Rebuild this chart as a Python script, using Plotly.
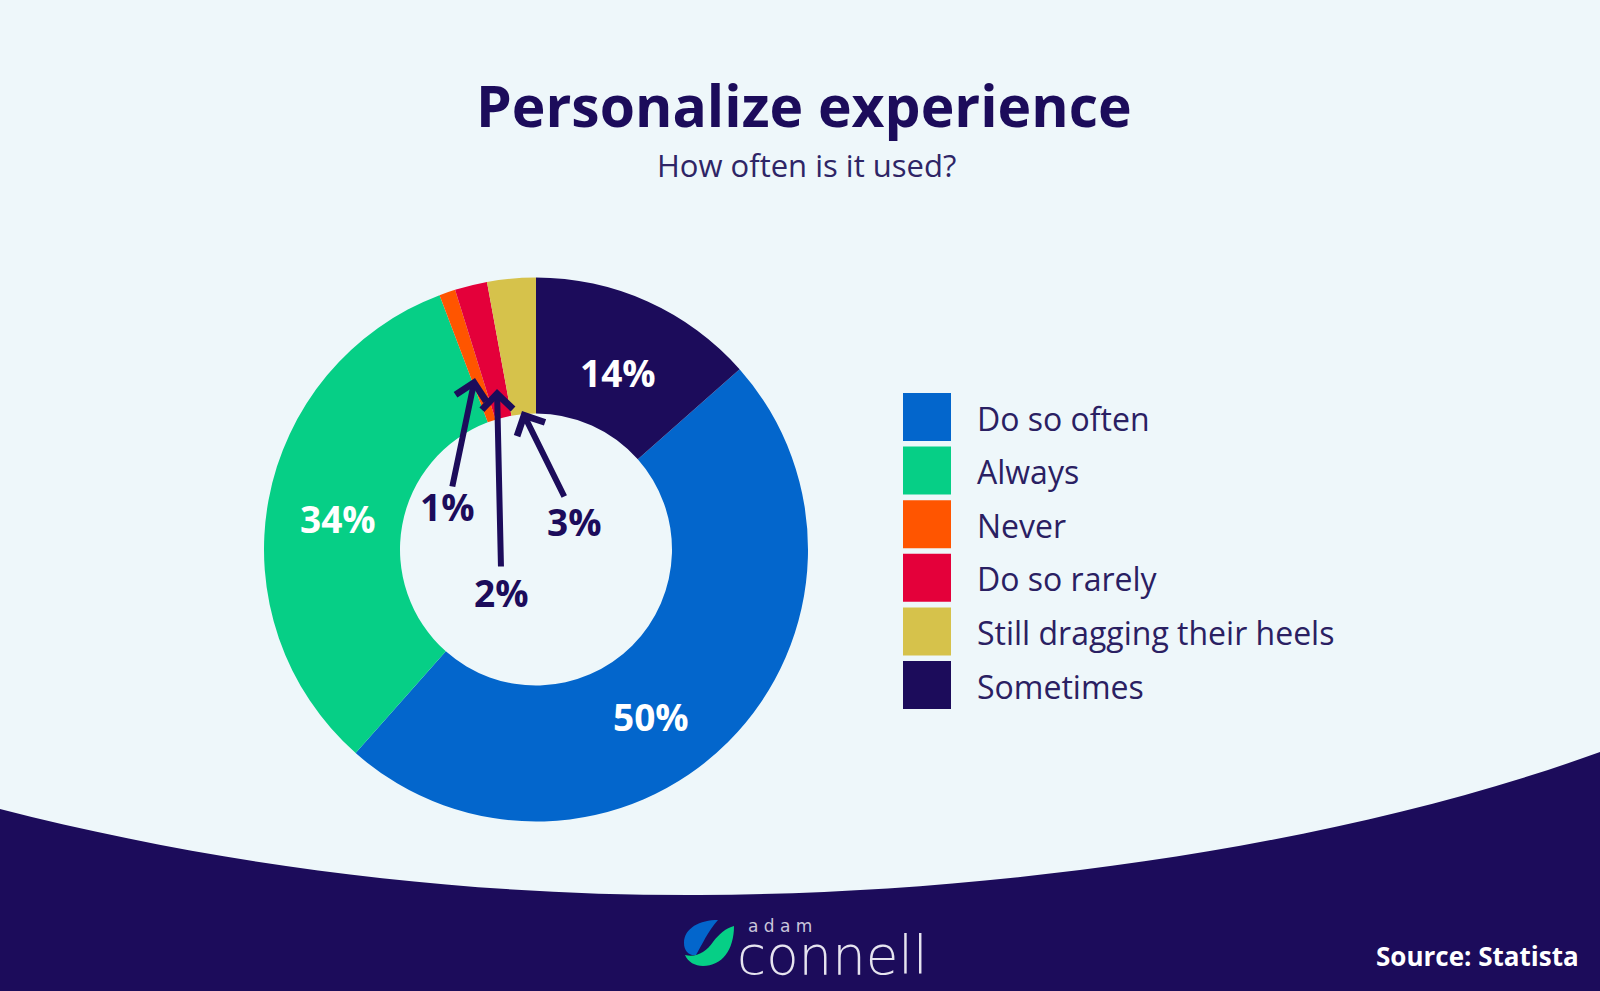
import plotly.graph_objects as go

W, H = 1600, 991

# data
labels = ["Do so often", "Always", "Never", "Do so rarely",
          "Still dragging their heels", "Sometimes"]
values = [50, 34, 1, 2, 3, 14]
colors = ["#0366CC", "#06CF86", "#FF5500", "#E4003A", "#D6C24B", "#1C0C5B"]

NAVY = "#1C0C5B"
BG = "#EEF7FA"
FONT = "Open Sans"


def px(x, y):
    # pixel position -> paper coords
    return x / W, 1 - y / H


def path(points):
    # list of pixel commands -> paper path
    out = []
    for cmd in points:
        if isinstance(cmd, str):
            out.append(cmd)
        else:
            a, b = px(*cmd)
            out.append(f"{a:.5f},{b:.5f}")
    return " ".join(out)


def label(x, y, text, size, color, xanchor="center", family=FONT, **kw):
    xx, yy = px(x, y)
    return dict(x=xx, y=yy, xref="paper", yref="paper", text=text,
                showarrow=False, xanchor=xanchor, yanchor="middle",
                font=dict(family=family, size=size, color=color, **kw))


# pie: center (536, 549.5), outer radius 272
cx, cy, r = 536, 549.5, 272
x0, y0 = px(cx - r, cy + r)
x1, y1 = px(cx + r, cy - r)

fig = go.Figure()
fig.add_trace(go.Pie(
    labels=labels,
    values=values,
    marker=dict(colors=colors, line=dict(width=0)),
    hole=0.5,
    sort=False,
    direction="clockwise",
    rotation=360 * values[-1] / sum(values),
    textinfo="none",
    hoverinfo="label+value",
    showlegend=False,
    domain=dict(x=[x0, x1], y=[y0, y1]),
))

shapes = []
annotations = []

# bottom navy band with curved top
shapes.append(dict(
    type="path", xref="paper", yref="paper", layer="below",
    path=path(["M", (0, 809), "C", (230, 868), (470, 896), (700, 895),
               "C", (980, 894), (1330, 850), (1600, 752),
               "L", (1600, 991), "L", (0, 991), "Z"]),
    fillcolor=NAVY, line=dict(width=0),
))

# logo icon
shapes.append(dict(
    type="path", xref="paper", yref="paper",
    path=path(["M", (718, 920), "C", (700, 920), (684, 928), (684, 943),
               "C", (684, 951), (689, 956), (696, 955),
               "C", (702, 945), (708, 931), (718, 920), "Z"]),
    fillcolor="#0366CC", line=dict(width=0),
))
shapes.append(dict(
    type="path", xref="paper", yref="paper",
    path=path(["M", (734, 926), "C", (734, 950), (722, 966), (703, 966),
               "C", (695, 966), (688, 962), (685, 955),
               "C", (696, 958), (706, 952), (713, 942),
               "C", (719, 934), (726, 928), (734, 926), "Z"]),
    fillcolor="#06CF86", line=dict(width=0),
))

# title and subtitle
annotations.append(label(804, 105, "<b>Personalize experience</b>", 57, NAVY))
annotations.append(label(806, 165, "How often is it used?", 31, "#2E2566"))

# big slice labels (white, inside)
big_pos = {"Sometimes": (618, 372), "Do so often": (651, 716), "Always": (338, 518)}
for lab, v in zip(labels, values):
    if lab in big_pos:
        annotations.append(label(*big_pos[lab], f"<b>{v}%</b>", 37, "white"))

# small slices: arrow tip, arrow tail, text position
small_pos = {"Never": ((475, 378), (452, 488), (447, 506)),
             "Do so rarely": ((497, 389), (501, 568), (501, 592)),
             "Still dragging their heels": ((522, 411), (565, 498), (574, 521))}
for lab, v in zip(labels, values):
    if lab in small_pos:
        (tx, ty), (sx, sy), (lx, ly) = small_pos[lab]
        xx, yy = px(tx, ty)
        annotations.append(dict(x=xx, y=yy, xref="paper", yref="paper",
                                ax=sx - tx, ay=sy - ty, axref="pixel", ayref="pixel",
                                text="", showarrow=True,
                                arrowhead=4, arrowsize=1.0, arrowwidth=6,
                                arrowcolor=NAVY, standoff=0, startstandoff=0))
        annotations.append(label(lx, ly, f"<b>{v}%</b>", 37, NAVY))

# legend (manual, big squares)
for i, (lab, col) in enumerate(zip(labels, colors)):
    top = 393 + i * 53.6
    sx0, sy1 = px(903, top)
    sx1, sy0 = px(951, top + 48)
    shapes.append(dict(type="rect", xref="paper", yref="paper",
                       x0=sx0, x1=sx1, y0=sy0, y1=sy1,
                       fillcolor=col, line=dict(width=0)))
    annotations.append(label(975, top + 25, lab, 32, "#2A2062", xanchor="left"))

# footer logo text and source
annotations.append(label(746, 926, "a d a m", 17, "#C9C6DA", xanchor="left",
                         family="DejaVu Sans"))
annotations.append(label(735, 955, "connell", 53, "#E6E4EF", xanchor="left",
                         family="DejaVu Sans", weight=200))
annotations.append(label(1581, 956, "<b>Source: Statista</b>", 26, "white",
                         xanchor="right"))

fig.update_layout(
    width=W, height=H,
    margin=dict(l=0, r=0, t=0, b=0),
    paper_bgcolor=BG,
    plot_bgcolor=BG,
    shapes=shapes,
    annotations=annotations,
    showlegend=False,
)

fig.write_html("out.html", config={"displayModeBar": False},
               post_script="document.body.style.margin='0';")
